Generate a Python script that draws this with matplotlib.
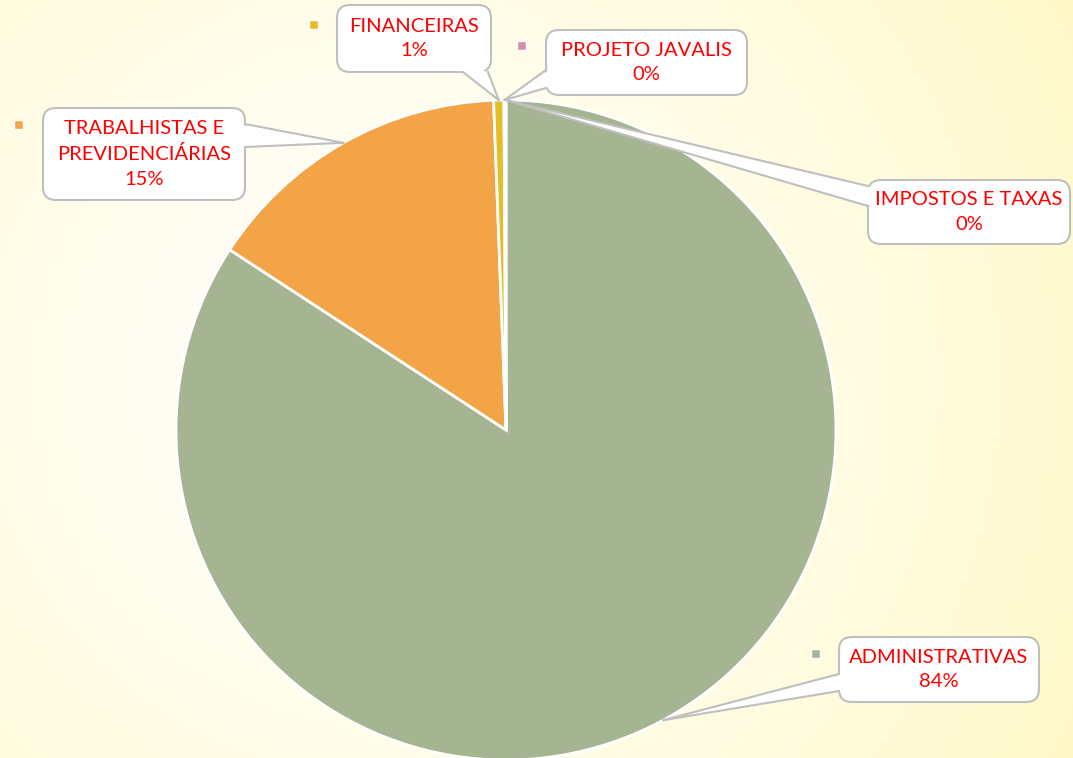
import numpy as np
import matplotlib.pyplot as plt
from matplotlib.patches import FancyBboxPatch, Polygon, Rectangle

W, H = 1073, 758

categories = ['ADMINISTRATIVAS', 'TRABALHISTAS E\nPREVIDENCIÁRIAS', 'FINANCEIRAS',
              'PROJETO JAVALIS', 'IMPOSTOS E TAXAS']
values = [84.2, 15.2, 0.5, 0.05, 0.05]
pct_labels = ['84%', '15%', '1%', '0%', '0%']
colors = ['#A5B592', '#F3A447', '#E7BC29', '#D092A7', '#9C85C0']

# label boxes in image pixels: (x0, y0, x1, y1), wedge base points, legend key centre
boxes = [(839, 637, 1039, 702), (43, 108, 245, 200), (337, 5, 491, 72),
         (546, 30, 747, 95), (868, 180, 1070, 244)]
bases = [((839, 674), (839, 691)), ((245, 124), (245, 147)), ((463, 72), (488, 72)),
         ((546, 70), (546, 88)), ((868, 186), (868, 206))]
keys = [(815, 653), (18, 124), (313, 24), (521, 45), None]

fig = plt.figure(figsize=(W / 100, H / 100), dpi=100)
ax = fig.add_axes([0, 0, 1, 1])

# background: white centre fading to pale yellow
yy, xx = np.mgrid[0:H, 0:W]
d = np.sqrt((xx - 380) ** 2 + (yy - 380) ** 2) / 800
t = np.clip(d, 0, 1) ** 1.3
white = np.array([255, 255, 252]) / 255
yellow = np.array([255, 249, 200]) / 255
bg = white[None, None, :] * (1 - t[..., None]) + yellow[None, None, :] * t[..., None]
ax.imshow(bg, extent=(0, W, 0, H), origin='upper', zorder=0, interpolation='bilinear')

cx, cy, r = 506, H - 430, 330
wedges, _ = ax.pie(values, colors=colors, startangle=90, counterclock=False,
                   center=(cx, cy), radius=r,
                   wedgeprops=dict(edgecolor='white', linewidth=2))
for w in wedges:
    w.set_zorder(2)

gray = '#BFBFBF'
for i, w in enumerate(wedges):
    ang = np.deg2rad((w.theta1 + w.theta2) / 2)
    tip = (cx + r * np.cos(ang), cy + r * np.sin(ang))
    x0, y0, x1, y1 = boxes[i]
    box = FancyBboxPatch((x0, H - y1), x1 - x0, y1 - y0,
                         boxstyle='round,pad=0,rounding_size=13',
                         fc='white', ec=gray, lw=1.5, zorder=5)
    ax.add_patch(box)
    b1, b2 = [(bx, H - by) for bx, by in bases[i]]
    # push base a bit inside the box so the border is hidden there
    bxc, byc = (x0 + x1) / 2, H - (y0 + y1) / 2
    def inside(p):
        dx, dy = bxc - p[0], byc - p[1]
        n = np.hypot(dx, dy)
        return (p[0] + 4 * dx / n, p[1] + 4 * dy / n)
    ax.add_patch(Polygon([tip, inside(b1), inside(b2)], closed=True, fc='white',
                         ec='none', zorder=6))
    ax.plot([tip[0], b1[0]], [tip[1], b1[1]], color=gray, lw=1.5, zorder=7)
    ax.plot([tip[0], b2[0]], [tip[1], b2[1]], color=gray, lw=1.5, zorder=7)
    ax.text(bxc, byc, categories[i] + '\n' + pct_labels[i], ha='center', va='center',
            color='#FF0000', fontsize=14.5, family='Lato', linespacing=1.55, zorder=8)
    if keys[i] is not None:
        kx, ky = keys[i]
        ax.add_patch(Rectangle((kx - 4.5, H - ky - 4.5), 9, 9, fc=colors[i], ec='white',
                               lw=1, zorder=8))

ax.set_xlim(0, W)
ax.set_ylim(0, H)
ax.axis('off')
fig.savefig('out.png', dpi=100)
